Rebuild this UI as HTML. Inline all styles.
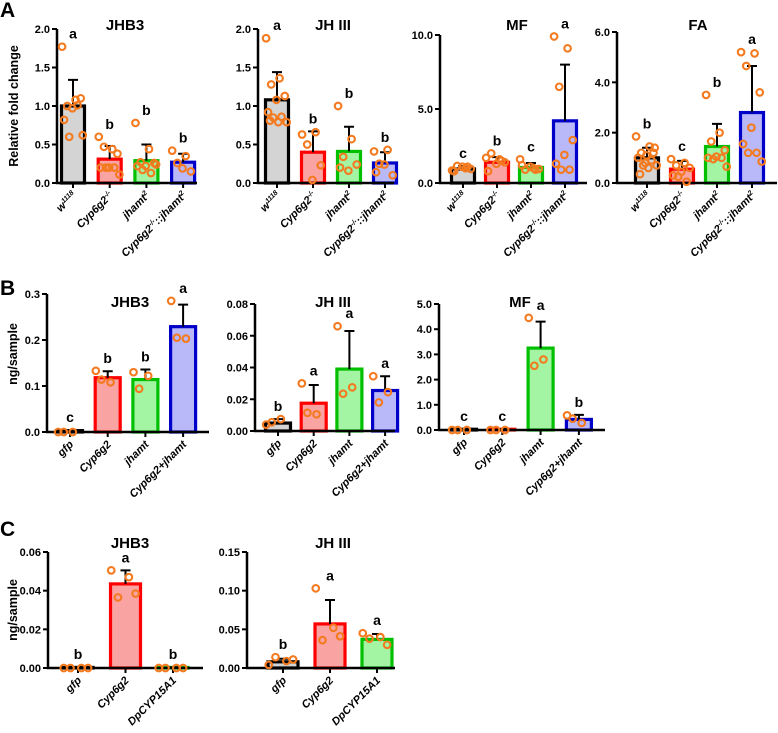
<!DOCTYPE html>
<html><head><meta charset="utf-8"><style>
body{margin:0;background:#fff;}
svg{display:block;font-family:"Liberation Sans",Arial,sans-serif;}
</style></head><body>
<svg id="fig" width="778" height="733" viewBox="0 0 778 733" xmlns="http://www.w3.org/2000/svg">
<text x="0" y="17" font-size="21" font-weight="bold">A</text>
<text x="0" y="295" font-size="21" font-weight="bold">B</text>
<text x="0" y="536" font-size="21" font-weight="bold">C</text>
<text transform="translate(18,106) rotate(-90)" text-anchor="middle" font-size="12.5" font-weight="bold">Relative fold change</text>
<text transform="translate(17,354) rotate(-90)" text-anchor="middle" font-size="12.5" font-weight="bold">ng/sample</text>
<text transform="translate(17,610) rotate(-90)" text-anchor="middle" font-size="12.5" font-weight="bold">ng/sample</text>
</svg>
<script>
// ---- data ----
const catsA = ["w1118","cyp","jhamt2","comb"];
const catsB = ["gfp","Cyp6g2","jhamt","Cyp6g2+jhamt"];
const catsC = ["gfp","Cyp6g2","DpCYP15A1"];

const aJhb3Means = [1.0,0.31,0.29,0.27];
const aJhb3Err = [1.34,0.48,0.50,0.38];
const aJhb3Pts = [[1.77,1.08,1.0,1.1,0.97,0.82,1.01,0.6,0.62],[0.6,0.44,0.47,0.38,0.2,0.2,0.2,0.2,0.11],[0.78,0.44,0.27,0.26,0.22,0.22,0.13,0.17,0.24],[0.42,0.35,0.26,0.15,0.19]];
const aJhb3Letters = ["a","b","b","b"];
const aJhb3Ticks = [0,0.5,1.0,1.5,2.0];

const aJh3Means = [1.08,0.4,0.41,0.26];
const aJh3Err = [1.44,0.67,0.73,0.40];
const aJh3Pts = [[1.88,1.36,1.28,1.13,1.08,0.92,0.86,0.85,0.79,0.79,0.81],[0.63,0.66,0.5,0.23,0.04],[1.0,0.57,0.34,0.24,0.16,0.2],[0.41,0.43,0.25,0.1,0.24,0.14]];
const aJh3Letters = ["a","b","b","b"];
const aJh3Ticks = [0,0.5,1.0,1.5,2.0];

const aMfMeans = [0.95,1.4,1.05,4.2];
const aMfErr = [1.15,1.75,1.35,8.0];
const aMfPts = [[0.85,1.0,1.15,0.95,1.1,0.8,1.1],[1.7,1.6,2.0,1.4,1.3,0.8,1.5],[1.6,1.0,0.9,0.95,1.1,1.2,0.9],[9.9,9.1,6.5,2.9,1.9,1.3,0.9,0.9]];
const aMfLetters = ["c","b","c","a"];
const aMfTicks = [0,5,10];

const aFaMeans = [1.0,0.55,1.45,2.8];
const aFaErr = [1.4,0.88,2.35,4.65];
const aFaPts = [[1.85,1.45,1.2,1.4,1.1,1.0,0.9,0.7,0.7,0.6,0.35,1.2,0.8],[0.95,0.8,0.7,0.6,0.45,0.3,0.05,0.25],[3.5,2.0,1.65,1.3,1.05,1.0,1.0,0.95,0.65],[5.2,5.15,4.65,3.6,2.2,1.55,1.2,1.2,0.85]];
const aFaLetters = ["b","c","b","a"];
const aFaTicks = [0,2,4,6];

const bJhb3Means = [0.003,0.118,0.114,0.229];
const bJhb3Err = [0.004,0.132,0.136,0.277];
const bJhb3Pts = [[0,0,0],[0.133,0.108,0.114],[0.13,0.122,0.094],[0.285,0.203,0.205]];
const bJhb3Letters = ["c","b","b","a"];
const bJhb3Ticks = [0,0.1,0.2,0.3];

const bJh3Means = [0.005,0.0175,0.039,0.0255];
const bJh3Err = [0.0075,0.029,0.063,0.0345];
const bJh3Pts = [[0.004,0.0075,0.0055],[0.03,0.0105,0.0115],[0.066,0.0275,0.0235],[0.0345,0.0245,0.018]];
const bJh3Letters = ["b","a","a","a"];
const bJh3Ticks = [0,0.02,0.04,0.06,0.08];

const bMfMeans = [0.03,0.03,3.25,0.42];
const bMfErr = [0.04,0.04,4.3,0.6];
const bMfPts = [[0,0,0],[0,0,0],[4.45,2.8,2.55],[0.58,0.28,0.45]];
const bMfLetters = ["c","c","a","b"];
const bMfTicks = [0,1,2,3,4,5];

const cJhb3Means = [0.0003,0.0435,0.0003];
const cJhb3Err = [0.0004,0.0505,0.0004];
const cJhb3Pts = [[0,0,0,0],[0.0505,0.047,0.0365,0.0385],[0,0,0,0]];
const cJhb3Letters = ["b","a","b"];
const cJhb3Ticks = [0,0.02,0.04,0.06];

const cJh3Means = [0.008,0.057,0.037];
const cJh3Err = [0.012,0.088,0.044];
const cJh3Pts = [[0.004,0.009,0.014,0.011],[0.103,0.052,0.036,0.041],[0.045,0.04,0.038,0.03]];
const cJh3Letters = ["b","a","a"];
const cJh3Ticks = [0,0.05,0.10,0.15];

// ---- drawing ----
const NS="http://www.w3.org/2000/svg";
const svg=document.getElementById('fig');
const STROKES=["#000000","#ff0000","#00c000","#0000c8"];
const FILLS=["#d4d4d4","#f9a3a3","#a3f5a3","#b9b9fa"];
function mk(tag,attrs,parent){const e=document.createElementNS(NS,tag);for(const k in attrs)e.setAttribute(k,attrs[k]);(parent||svg).appendChild(e);return e;}

function labelA(g,t,x,y){
  const el=mk('text',{x:x,y:y,'text-anchor':'end','font-size':11,'font-weight':'bold','font-style':'italic',transform:`rotate(-45 ${x} ${y})`},g);
  
  
  const parts={"w1118":[["w",""],["1118","sup"]],"cyp":[["Cyp6g2",""],["-/-","sup"]],"jhamt2":[["jhamt",""],["2","sup"]],"comb":[["Cyp6g2",""],["-/-","sup"],["::jhamt",""],["2","sup"]]}[t];
  if(!parts){el.textContent=t;return;}
  parts.forEach(p=>{const s=mk('tspan',{},el);s.textContent=p[0];if(p[1])s.setAttribute('font-size','7');});
  const sp=el.querySelectorAll('tspan');let up=false;
  sp.forEach(s=>{const isSup=s.getAttribute('font-size')==='7';s.setAttribute('dy',isSup?(up?0:-4):(up?4:0));up=isSup;});
}

function chart(o){
  const g=mk('g',{});
  
  
  const ymax=o.ticks[o.ticks.length-1];
  const ys=v=>o.y0-(v/ymax)*(o.y0-o.y1);
  const n=o.means.length;
  const xs=i=>o.xa+o.first+i*o.step;
  const t=mk('text',{x:o.tx,y:o.ty,'text-anchor':'middle','font-size':15,'font-weight':'bold'},g);
  t.textContent=o.title;
  
  
  for(let i=0;i<n;i++){
    const cx=xs(i),top=ys(o.means[i]);
    const b=mk('rect',{x:cx-o.bw/2,y:top,width:o.bw,height:Math.max(o.y0-top,0.5),fill:FILLS[i],stroke:STROKES[i],'stroke-width':3.2},g);
    
    
    const ey=ys(o.err[i]);
    const e=mk('path',{d:`M${cx} ${top}V${ey}M${cx-5} ${ey}H${cx+5}`,stroke:'#000','stroke-width':2,fill:'none'},g);
    
    
  }
  const ax=mk('path',{d:`M${o.xa} ${o.y1}V${o.y0}H${o.xend}`,stroke:'#000','stroke-width':2.5,fill:'none'},g);
  
  
  o.ticks.forEach((tv,k)=>{
    const y=ys(tv);
    mk('path',{d:`M${o.xa-5} ${y}H${o.xa}`,stroke:'#000','stroke-width':2},g);
    const tl=mk('text',{x:o.xa-7,y:y+4,'text-anchor':'end','font-size':11,'font-weight':'bold'},g);
    tl.textContent=o.tlab[k];
    
    
  });
  for(let i=0;i<n;i++){
    const cx=xs(i);
    mk('path',{d:`M${cx} ${o.y0}V${o.y0+5}`,stroke:'#000','stroke-width':2},g);
    labelA(g,o.cats[i],cx+4,o.y0+13);
  }
  for(let i=0;i<n;i++){
    const pts=o.pts[i],m=pts.length,cx=xs(i);
    let top=ys(o.err[i]);
    pts.forEach((v,j)=>{
      const frac=m>1?(((j*0.618)%1)-0.5):0;
      const off=frac*o.bw*0.95;
      const c=mk('circle',{cx:cx+off,cy:ys(v),r:3.3,fill:'none',stroke:'#f47a1f','stroke-width':2.1},g);
      
      
      top=Math.min(top,ys(v));
    });
    const l=mk('text',{x:cx,y:top-8,'text-anchor':'middle','font-size':14,'font-weight':'bold'},g);
    l.textContent=o.letters[i];
    
    
  }
}
const fmt1=a=>a.map(v=>v.toFixed(1)),fmt2=a=>a.map(v=>v.toFixed(2));
chart({name:'chart-a-jhb3',title:'JHB3',tx:125,ty:30,xa:57,xend:197,y0:183,y1:29,first:16,step:36.7,bw:23,cats:catsA,means:aJhb3Means,err:aJhb3Err,pts:aJhb3Pts,letters:aJhb3Letters,ticks:aJhb3Ticks,tlab:fmt1(aJhb3Ticks)});
chart({name:'chart-a-jh3',title:'JH III',tx:333,ty:30,xa:258,xend:394,y0:183,y1:29,first:19,step:36,bw:23,cats:catsA,means:aJh3Means,err:aJh3Err,pts:aJh3Pts,letters:aJh3Letters,ticks:aJh3Ticks,tlab:fmt1(aJh3Ticks)});
chart({name:'chart-a-mf',title:'MF',tx:517,ty:30,xa:440,xend:587,y0:183,y1:35,first:23,step:34,bw:23,cats:catsA,means:aMfMeans,err:aMfErr,pts:aMfPts,letters:aMfLetters,ticks:aMfTicks,tlab:fmt1(aMfTicks)});
chart({name:'chart-a-fa',title:'FA',tx:698,ty:30,xa:617,xend:777,y0:183,y1:32,first:30,step:35,bw:23,cats:catsA,means:aFaMeans,err:aFaErr,pts:aFaPts,letters:aFaLetters,ticks:aFaTicks,tlab:fmt1(aFaTicks)});
chart({name:'chart-b-jhb3',title:'JHB3',tx:130,ty:307,xa:47,xend:209,y0:432,y1:294,first:23,step:37.7,bw:25,cats:catsB,means:bJhb3Means,err:bJhb3Err,pts:bJhb3Pts,letters:bJhb3Letters,ticks:bJhb3Ticks,tlab:fmt1(bJhb3Ticks)});
chart({name:'chart-b-jh3',title:'JH III',tx:333,ty:307,xa:255,xend:395,y0:431,y1:304,first:23,step:35.7,bw:25,cats:catsB,means:bJh3Means,err:bJh3Err,pts:bJh3Pts,letters:bJh3Letters,ticks:bJh3Ticks,tlab:fmt2(bJh3Ticks)});
chart({name:'chart-b-mf',title:'MF',tx:520,ty:307,xa:439,xend:605,y0:430,y1:304,first:25,step:38.3,bw:25,cats:catsB,means:bMfMeans,err:bMfErr,pts:bMfPts,letters:bMfLetters,ticks:bMfTicks,tlab:fmt1(bMfTicks)});
chart({name:'chart-c-jhb3',title:'JHB3',tx:130,ty:548,xa:48,xend:203,y0:668,y1:552,first:30,step:47.5,bw:30,cats:catsC,means:cJhb3Means,err:cJhb3Err,pts:cJhb3Pts,letters:cJhb3Letters,ticks:cJhb3Ticks,tlab:fmt2(cJhb3Ticks)});
chart({name:'chart-c-jh3',title:'JH III',tx:333,ty:548,xa:247,xend:395,y0:668,y1:552,first:36,step:47,bw:30,cats:catsC,means:cJh3Means,err:cJh3Err,pts:cJh3Pts,letters:cJh3Letters,ticks:cJh3Ticks,tlab:fmt2(cJh3Ticks)});
</script>
</body></html>
